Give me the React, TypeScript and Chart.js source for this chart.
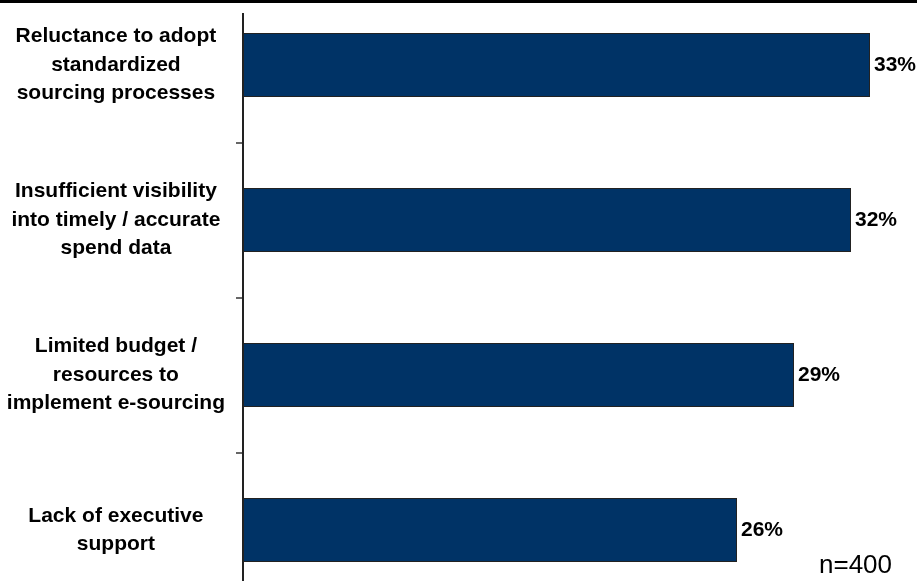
import React, { useEffect, useRef } from "react";
import { Chart, registerables } from "chart.js";

Chart.register(...registerables);

const categories: string[][] = [
  ["Reluctance to adopt", "standardized", "sourcing processes"],
  ["Insufficient visibility", "into timely / accurate", "spend data"],
  ["Limited budget /", "resources to", "implement e-sourcing"],
  ["Lack of executive", "support"],
];
const values: number[] = [33, 32, 29, 26];
const axisMax = 35;
const noteText = "n=400";

const FONT = '"Liberation Sans", Arial, sans-serif';
const W = 917;
const H = 640;
const OFFSET = 20; // canvas shifted up by this many px

export default function App() {
  const ref = useRef<HTMLCanvasElement | null>(null);

  useEffect(() => {
    if (!ref.current) return;
    const overlay = {
      id: "overlay",
      afterDraw(chart: any) {
        const ctx = chart.ctx;
        ctx.save();
        // top rule
        ctx.fillStyle = "#000";
        ctx.fillRect(0, OFFSET, W, 3);
        // axis line
        const ax = chart.chartArea.left;
        ctx.strokeStyle = "#222";
        ctx.lineWidth = 2;
        ctx.beginPath();
        ctx.moveTo(ax, OFFSET + 13);
        ctx.lineTo(ax, H);
        ctx.stroke();
        // value labels
        const meta = chart.getDatasetMeta(0);
        ctx.fillStyle = "#000";
        ctx.font = `bold 21px ${FONT}`;
        ctx.textAlign = "left";
        ctx.textBaseline = "middle";
        meta.data.forEach((bar: any, i: number) => {
          ctx.fillText(`${values[i]}%`, bar.x + 4, bar.y);
        });
        // note
        ctx.font = `26px ${FONT}`;
        ctx.textBaseline = "alphabetic";
        ctx.fillText(noteText, 819, OFFSET + 573);
        ctx.restore();
      },
    };

    const chart = new Chart(ref.current, {
      type: "bar",
      data: {
        labels: categories,
        datasets: [
          {
            data: values,
            backgroundColor: "#003366",
            borderColor: "#222",
            borderWidth: 1,
            barPercentage: 0.413,
            categoryPercentage: 1,
          },
        ],
      },
      options: {
        indexAxis: "y",
        responsive: false,
        animation: false,
        devicePixelRatio: 1,
        layout: {
          autoPadding: false,
          padding: { top: 7.5, bottom: 12.5, left: 0, right: 9 },
        },
        plugins: {
          legend: { display: false },
          tooltip: { enabled: false },
        },
        scales: {
          x: {
            display: false,
            min: 0,
            max: axisMax,
          },
          y: {
            position: "left",
            afterFit: (scale: any) => {
              scale.width = 243;
              scale.paddingTop = 0;
              scale.paddingBottom = 0;
            },
            border: { display: false },
            grid: {
              display: true,
              drawOnChartArea: false,
              drawTicks: true,
              tickLength: 7,
              offset: true,
              color: "#666",
              lineWidth: 2,
            },
            ticks: {
              crossAlign: "center",
              padding: 11,
              color: "#000",
              font: { family: FONT, size: 21, weight: "bold", lineHeight: 1.36 },
            },
          },
        },
      },
      plugins: [overlay],
    } as any);
    return () => chart.destroy();
  }, []);

  return (
    <div
      style={{
        position: "fixed",
        left: 0,
        top: 0,
        width: W,
        height: 581,
        overflow: "hidden",
        background: "#fff",
      }}
    >
      <canvas
        ref={ref}
        width={W}
        height={H}
        style={{ position: "absolute", left: 0, top: -OFFSET, width: W, height: H }}
      />
    </div>
  );
}
